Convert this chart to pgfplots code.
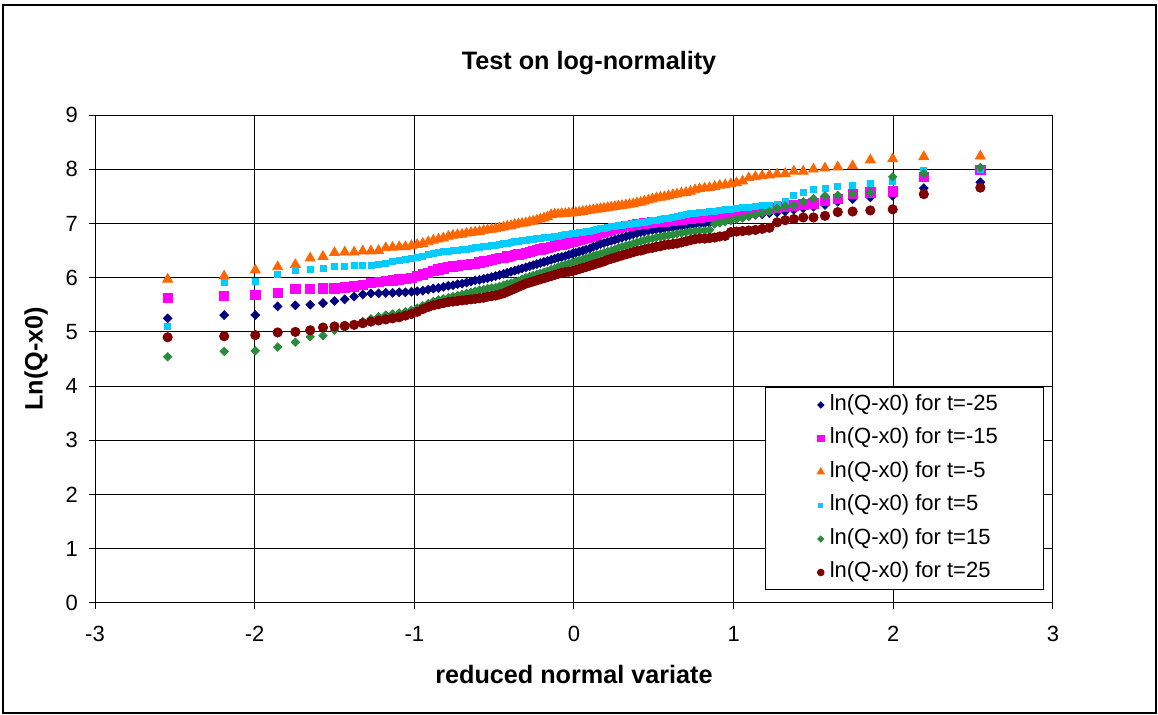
\documentclass[border=0pt]{standalone}
\usepackage{fontspec}
\setmainfont{Liberation Sans}
\usepackage{pgfplots}
\usepackage{pgfplotstable}
\pgfplotsset{compat=1.18}
\definecolor{cnavy}{RGB}{0,0,128}
\definecolor{cpink}{RGB}{255,0,255}
\definecolor{corange}{RGB}{255,102,0}
\definecolor{ccyan}{RGB}{0,204,255}
\definecolor{cgreen}{RGB}{40,140,60}
\definecolor{cred}{RGB}{128,0,0}
\pgfplotsset{lgd/.style={legend image code/.code={\path[draw=none,fill=none] (0pt,-1pt) rectangle (9.2pt,1pt); \draw[##1,/tikz/every mark/.append style={scale=0.7}] plot coordinates {(6.7pt,0pt)};}}}
\pgfplotstableread{
x a b c d e f
-2.545 5.25 5.63 5.97 5.11 4.54 4.90
-2.191 5.31 5.66 6.03 5.92 4.64 4.92
-1.996 5.31 5.68 6.14 5.94 4.65 4.94
-1.856 5.47 5.72 6.20 6.06 4.72 4.99
-1.745 5.49 5.79 6.24 6.13 4.81 5.00
-1.652 5.50 5.79 6.36 6.15 4.91 5.03
-1.572 5.53 5.80 6.39 6.18 4.93 5.08
-1.500 5.57 5.80 6.46 6.20 5.03 5.10
-1.436 5.60 5.82 6.47 6.21 5.08 5.11
-1.377 5.65 5.84 6.47 6.22 5.13 5.13
-1.323 5.69 5.87 6.49 6.22 5.19 5.16
-1.272 5.71 5.90 6.49 6.23 5.24 5.19
-1.224 5.71 5.92 6.50 6.24 5.28 5.21
-1.179 5.72 5.94 6.55 6.27 5.31 5.23
-1.136 5.72 5.95 6.56 6.30 5.33 5.25
-1.095 5.73 5.97 6.57 6.31 5.35 5.27
-1.056 5.73 5.98 6.57 6.33 5.37 5.30
-1.018 5.74 6.00 6.59 6.35 5.40 5.33
-0.982 5.75 6.03 6.61 6.38 5.44 5.37
-0.947 5.76 6.06 6.63 6.40 5.48 5.42
-0.913 5.78 6.09 6.66 6.43 5.52 5.46
-0.881 5.80 6.12 6.69 6.45 5.56 5.49
-0.849 5.81 6.15 6.71 6.46 5.59 5.51
-0.818 5.83 6.17 6.73 6.48 5.61 5.53
-0.787 5.85 6.20 6.76 6.49 5.63 5.55
-0.758 5.86 6.21 6.78 6.50 5.65 5.56
-0.729 5.88 6.22 6.79 6.51 5.67 5.57
-0.701 5.89 6.23 6.80 6.52 5.69 5.58
-0.673 5.91 6.24 6.82 6.53 5.71 5.59
-0.645 5.93 6.25 6.83 6.54 5.73 5.60
-0.619 5.95 6.26 6.84 6.55 5.75 5.61
-0.592 5.96 6.28 6.85 6.56 5.77 5.62
-0.566 5.98 6.30 6.87 6.57 5.78 5.63
-0.541 5.99 6.31 6.88 6.58 5.80 5.65
-0.516 6.01 6.33 6.89 6.59 5.81 5.66
-0.491 6.03 6.34 6.90 6.60 5.82 5.67
-0.466 6.05 6.36 6.92 6.61 5.84 5.69
-0.441 6.07 6.37 6.93 6.63 5.86 5.71
-0.418 6.09 6.39 6.95 6.64 5.88 5.74
-0.394 6.11 6.40 6.96 6.65 5.90 5.77
-0.371 6.13 6.42 6.98 6.66 5.92 5.80
-0.348 6.15 6.43 6.99 6.67 5.94 5.83
-0.325 6.17 6.44 7.00 6.68 5.97 5.86
-0.301 6.19 6.46 7.01 6.69 6.00 5.89
-0.278 6.21 6.47 7.03 6.70 6.02 5.91
-0.256 6.23 6.49 7.04 6.71 6.04 5.93
-0.233 6.25 6.51 7.06 6.72 6.06 5.95
-0.211 6.27 6.52 7.08 6.73 6.08 5.97
-0.188 6.29 6.54 7.10 6.74 6.10 5.99
-0.166 6.31 6.55 7.12 6.75 6.12 6.01
-0.143 6.33 6.57 7.16 6.75 6.15 6.03
-0.121 6.35 6.58 7.17 6.76 6.17 6.05
-0.099 6.37 6.60 7.17 6.77 6.20 6.07
-0.077 6.38 6.61 7.18 6.78 6.22 6.09
-0.055 6.40 6.63 7.18 6.79 6.24 6.10
-0.033 6.42 6.64 7.19 6.80 6.26 6.11
-0.011 6.44 6.66 7.19 6.81 6.28 6.12
0.011 6.46 6.68 7.20 6.82 6.30 6.14
0.033 6.48 6.70 7.21 6.83 6.32 6.16
0.055 6.50 6.72 7.22 6.84 6.34 6.18
0.077 6.52 6.74 7.23 6.85 6.36 6.20
0.099 6.54 6.76 7.24 6.86 6.38 6.22
0.121 6.57 6.78 7.25 6.88 6.40 6.24
0.143 6.59 6.80 7.26 6.89 6.42 6.26
0.166 6.62 6.82 7.27 6.90 6.44 6.28
0.188 6.64 6.84 7.28 6.91 6.46 6.30
0.211 6.66 6.86 7.29 6.93 6.48 6.33
0.233 6.68 6.88 7.30 6.94 6.50 6.35
0.256 6.70 6.90 7.31 6.95 6.52 6.37
0.278 6.72 6.92 7.32 6.96 6.55 6.39
0.301 6.74 6.93 7.33 6.97 6.57 6.41
0.325 6.76 6.95 7.34 6.98 6.59 6.43
0.348 6.78 6.96 7.35 6.99 6.61 6.45
0.371 6.80 6.97 7.36 7.00 6.63 6.47
0.394 6.82 6.98 7.38 7.01 6.65 6.49
0.418 6.84 6.99 7.39 7.02 6.67 6.50
0.441 6.85 7.00 7.41 7.02 6.69 6.52
0.466 6.87 7.01 7.43 7.04 6.71 6.54
0.491 6.88 7.02 7.45 7.05 6.72 6.55
0.516 6.89 7.03 7.47 7.06 6.74 6.57
0.541 6.90 7.03 7.48 7.08 6.75 6.58
0.566 6.91 7.04 7.49 7.09 6.77 6.60
0.592 6.92 7.05 7.51 7.10 6.78 6.61
0.619 6.93 7.05 7.53 7.12 6.79 6.62
0.645 6.94 7.06 7.54 7.13 6.81 6.63
0.673 6.95 7.07 7.56 7.15 6.82 6.65
0.701 6.96 7.08 7.57 7.16 6.84 6.67
0.729 6.97 7.09 7.59 7.18 6.85 6.69
0.758 6.98 7.10 7.62 7.19 6.86 6.71
0.787 6.99 7.11 7.64 7.20 6.87 6.72
0.818 7.00 7.12 7.65 7.21 6.87 6.72
0.849 7.01 7.13 7.66 7.22 6.88 6.73
0.881 7.02 7.15 7.68 7.23 6.99 6.74
0.913 7.04 7.16 7.70 7.24 7.01 6.76
0.947 7.06 7.18 7.71 7.25 7.03 6.77
0.982 7.08 7.19 7.73 7.26 7.05 6.84
1.018 7.10 7.20 7.75 7.27 7.08 6.85
1.056 7.12 7.21 7.78 7.29 7.10 6.86
1.095 7.14 7.22 7.84 7.30 7.13 6.87
1.136 7.16 7.24 7.86 7.31 7.16 6.88
1.179 7.17 7.25 7.88 7.33 7.19 6.90
1.224 7.19 7.27 7.89 7.34 7.22 6.92
1.272 7.20 7.29 7.91 7.36 7.28 7.02
1.323 7.22 7.31 7.92 7.40 7.32 7.06
1.377 7.25 7.33 7.96 7.51 7.33 7.08
1.436 7.28 7.35 7.96 7.57 7.40 7.11
1.500 7.31 7.37 8.00 7.63 7.46 7.11
1.572 7.34 7.42 8.02 7.64 7.51 7.14
1.652 7.40 7.45 8.04 7.68 7.52 7.21
1.745 7.45 7.54 8.06 7.71 7.55 7.22
1.856 7.48 7.57 8.17 7.74 7.57 7.24
1.996 7.51 7.59 8.19 7.77 7.86 7.26
2.191 7.65 7.86 8.23 7.97 7.92 7.54
2.545 7.76 7.99 8.24 7.99 8.03 7.66
}\data
\begin{document}
\begin{tikzpicture}
\useasboundingbox (0,0) rectangle (579pt,357.5pt);
\draw[black, line width=0.6pt] (1.5pt,1pt) rectangle (578pt,355pt);
\node[font=\bfseries\fontsize{12.6}{14}\selectfont] at (294.5pt,326pt) {Test on log-normality};
\begin{axis}[
  at={(47.5pt,56pt)}, anchor=south west,
  width=479pt, height=244pt, scale only axis,
  xmin=-3, xmax=3, ymin=0, ymax=9,
  xtick={-3,-2,...,3}, ytick={0,1,...,9},
  xtick pos=left, ytick pos=left,
  grid=major, major grid style={black, line width=0.5pt},
  axis line style={black, line width=0.5pt},
  tick align=outside, major tick length=3pt,
  tick style={black, line width=0.5pt},
  tick label style={font=\fontsize{11}{13}\selectfont},
  xticklabel style={yshift=-5pt},
  yticklabel style={xshift=-2pt},
  /pgf/number format/assume math mode=true,
  xlabel={reduced normal variate}, ylabel={Ln(Q-x0)},
  label style={font=\bfseries\fontsize{12.6}{14}\selectfont},
  xlabel style={at={(axis description cs:0.5,-0.1475)}, anchor=center},
  ylabel style={at={(axis description cs:-0.0616,0.5)}, anchor=center},
  legend style={at={(axis cs:2.9436,0.24)}, anchor=south east,
    draw=black, line width=0.5pt, fill=white, inner xsep=20.8pt, inner ysep=2.25pt,
    row sep=4.25pt,
    font=\fontsize{11}{13}\selectfont,
    nodes={text height=8pt, text depth=2.5pt, inner ysep=1pt}},
  legend cell align=left,
]
\addplot[color=cnavy, only marks, mark=square*, mark size=1.54pt, mark options={rotate=45}, lgd] table[x=x,y=a]{\data};
\addlegendentry{ln(Q-x0) for t=-25}
\addplot[color=cpink, only marks, mark=square*, mark size=2.33pt, lgd] table[x=x,y=b]{\data};
\addlegendentry{ln(Q-x0) for t=-15}
\addplot[color=corange, only marks, mark=triangle*, mark size=2.85pt, lgd] table[x=x,y=c]{\data};
\addlegendentry{ln(Q-x0) for t=-5}
\addplot[color=ccyan, only marks, mark=square*, mark size=1.5pt, lgd] table[x=x,y=d]{\data};
\addlegendentry{ln(Q-x0) for t=5}
\addplot[color=cgreen, only marks, mark=square*, mark size=1.47pt, mark options={rotate=45}, lgd] table[x=x,y=e]{\data};
\addlegendentry{ln(Q-x0) for t=15}
\addplot[color=cred, only marks, mark=*, mark size=2.33pt, lgd] table[x=x,y=f]{\data};
\addlegendentry{ln(Q-x0) for t=25}
\end{axis}
\end{tikzpicture}
\end{document}
